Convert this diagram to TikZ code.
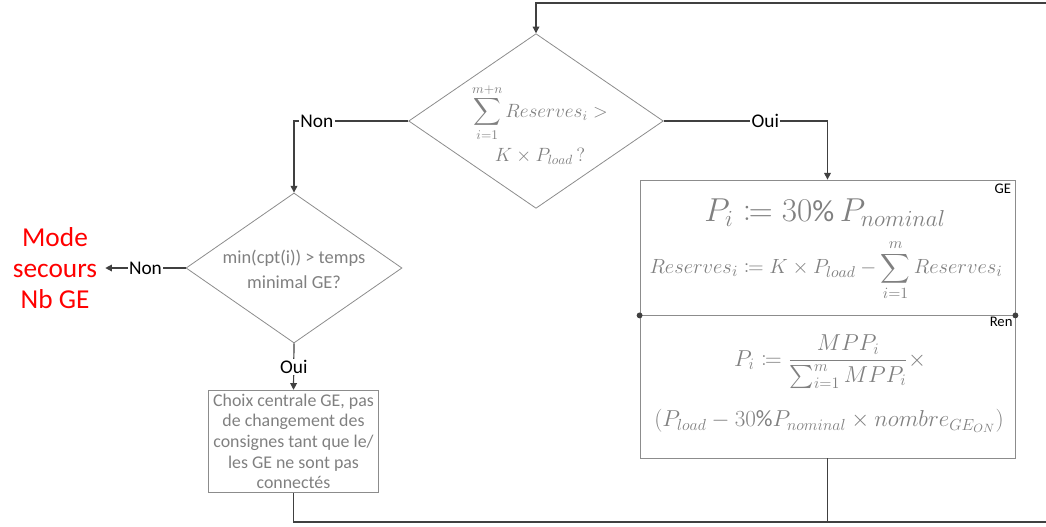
\documentclass[tikz,border=0pt]{standalone}
\usepackage{fontspec}
\setmainfont{Carlito}
\usepackage{amsmath,mathtools}
\usetikzlibrary{shapes.geometric,arrows.meta,positioning,calc}
\definecolor{boxgray}{RGB}{140,140,140}
\definecolor{txtgray}{RGB}{128,128,128}
\definecolor{linegray}{RGB}{64,64,64}
\definecolor{modered}{RGB}{255,0,0}

\begin{document}
\begin{tikzpicture}[x=0.75pt,y=-0.75pt,
  decision/.style={diamond,draw=boxgray,line width=0.6pt,inner sep=0pt},
  block/.style={rectangle,draw=boxgray,line width=0.6pt,inner sep=0pt},
  gtext/.style={text=txtgray,align=center,inner sep=0pt},
  flow/.style={draw=linegray,line width=0.9pt},
  arr/.style={flow,-{Triangle[width=5pt,length=5pt]}},
  lbl/.style={fill=white,inner sep=1pt,font=\fontsize{14.5}{16}\selectfont},
  tag/.style={font=\fontsize{11}{12}\selectfont,inner sep=1pt}]
\useasboundingbox (0,0) rectangle (1046,526);

% decisions
\node[decision,minimum width=191pt,minimum height=131pt] (d1) at (536,121) {};
\node[gtext,font=\fontsize{14.5}{17}\selectfont] (q1) at (540,124)
  {$\displaystyle\sum_{i=1}^{m+n} Reserves_i >$\\[4pt]$K\times P_{load}\,?$};
\node[decision,minimum width=162pt,minimum height=112.5pt] (d2) at (294,268) {};
\node[gtext,font=\fontsize{13.8}{19}\selectfont] (q2) at (294,269)
  {min(cpt(i)) > temps\\minimal GE?};

% blocks
\node[block,minimum width=281.25pt,minimum height=101.25pt] (ge) at (827.5,247.5) {};
\node[block,minimum width=281.25pt,minimum height=107.25pt] (ren) at (827.5,386.5) {};
\node[gtext,font=\fontsize{23}{26}\selectfont] (ge1) at (825,213)
  {$P_i \coloneqq 30\%\, P_{nominal}$};
\node[gtext,font=\fontsize{15.4}{18}\selectfont] (ge2) at (826,270)
  {\scalebox{1.07}{$Reserves_i \coloneqq K\times P_{load} - \displaystyle\sum_{i=1}^{m} Reserves_i$}};
\node[gtext,font=\fontsize{16.5}{19}\selectfont] (ren1) at (830,362)
  {$P_i \coloneqq \dfrac{MPP_i}{\sum_{i=1}^{m} MPP_i}\times$};
\node[gtext,font=\fontsize{17.5}{20}\selectfont] (ren2) at (829,421)
  {$\left(P_{load} - 30\%P_{nominal}\times nombre_{GE_{ON}}\right)$};
\node[tag,anchor=north east] (getag) at ([xshift=-2pt,yshift=-2pt]ge.north east) {GE};
\node[tag,anchor=north east] (rentag) at ([xshift=-1pt,yshift=-1pt]ren.north east) {Ren};
\fill[linegray] (ge.south west) circle (2.2pt) (ge.south east) circle (2.2pt);

\node[block,minimum width=128pt,minimum height=77pt,gtext,
  font=\fontsize{13.4}{15.5}\selectfont] (choix) at (293.5,441.5)
  {Choix centrale GE, pas\\de changement des\\consignes tant que le/\\les GE ne sont pas\\connectés};

\node[text=modered,align=center,minimum width=75pt,inner sep=0pt,
  font=\fontsize{20.5}{23.5}\selectfont] (mode) at (55,268) {Mode\\secours\\Nb GE};

% loop ends
\coordinate (tR) at (1046,3);
\coordinate (bR) at (1046,522);

% connectors
\draw[arr] (tR) -| (d1.north);
\draw[arr] (d1.west) -| node[lbl,pos=0.4] {Non} (d2.north);
\draw[arr] (d1.east) -| node[lbl,pos=0.31] {Oui} (ge.north);
\draw[arr] (d2.west) -- node[lbl] {Non} (mode.east);
\draw[arr] (d2.south) -- node[lbl] {Oui} (choix.north);
\draw[flow] (choix.south) |- (bR);
\draw[flow] (ren.south) -- (ren.south |- bR);
\end{tikzpicture}
\end{document}
